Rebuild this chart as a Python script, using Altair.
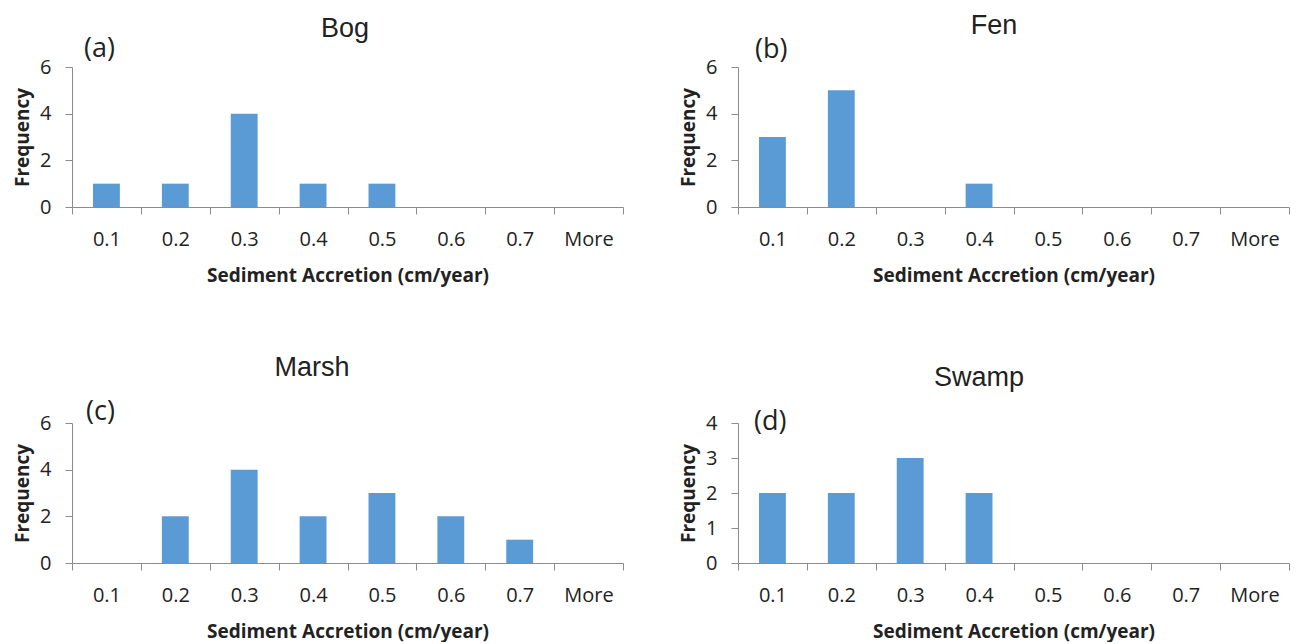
import altair as alt
import pandas as pd

# ---- data ----
categories = ["0.1", "0.2", "0.3", "0.4", "0.5", "0.6", "0.7", "More"]
bog = [1, 1, 4, 1, 1, 0, 0, 0]
fen = [3, 5, 0, 1, 0, 0, 0, 0]
marsh = [0, 2, 4, 2, 3, 2, 1, 0]
swamp = [2, 2, 3, 2, 0, 0, 0, 0]
panel_titles = ["Bog", "Fen", "Marsh", "Swamp"]
panel_tags = ["(a)", "(b)", "(c)", "(d)"]
y_max = [6, 6, 6, 4]
y_ticks = [[0, 2, 4, 6], [0, 2, 4, 6], [0, 2, 4, 6], [0, 1, 2, 3, 4]]

W, H = 551, 140
FONT = "Open Sans"
TITLE_FONT = "Liberation Sans"
BLUE = "#5B9BD5"
GRAY = "#8C8C8C"
INK = "#222222"

# annotation placement relative to each plot area
title_pos = [(273, -30), (256, -33.5), (240, -47), (241, -37)]
tag_pos = [(12, -10), (17, -9), (14, -3), (16, 7)]


def panel(i, vals):
    df = pd.DataFrame({"bin": categories, "freq": vals})
    bars = alt.Chart(df).mark_bar(color=BLUE, width=alt.RelativeBandSize(0.39)).encode(
        x=alt.X(
            "bin:N",
            sort=categories,
            scale=alt.Scale(paddingInner=0, paddingOuter=0),
            axis=alt.Axis(
                title="Sediment Accretion (cm/year)",
                labelAngle=0,
                tickBand="extent",
                tickSize=7,
                labelPadding=15,
                titlePadding=17,
            ),
        ),
        y=alt.Y(
            "freq:Q",
            scale=alt.Scale(domain=[0, y_max[i]], nice=False),
            axis=alt.Axis(
                title="Frequency",
                values=y_ticks[i],
                tickSize=7,
                labelPadding=14,
                titlePadding=7,
            ),
        ),
    )
    title = alt.Chart(pd.DataFrame({"label": [panel_titles[i]]})).mark_text(
        font=TITLE_FONT, fontSize=27, color=INK, align="center", baseline="alphabetic"
    ).encode(
        text="label:N",
        x=alt.value(title_pos[i][0]),
        y=alt.value(title_pos[i][1]),
    )
    tag = alt.Chart(pd.DataFrame({"label": [panel_tags[i]]})).mark_text(
        font=FONT, fontSize=27, color=INK, align="left", baseline="alphabetic"
    ).encode(
        text="label:N",
        x=alt.value(tag_pos[i][0]),
        y=alt.value(tag_pos[i][1]),
    )
    return alt.layer(bars, title, tag).properties(width=W, height=H)


panels = [panel(i, v) for i, v in enumerate([bog, fen, marsh, swamp])]

chart = (
    alt.concat(*panels, columns=2, spacing={"row": 67, "column": 55})
    .properties(padding={"left": 5, "top": 3, "right": 0, "bottom": 0})
    .configure_axis(
        labelFont=FONT,
        labelFontSize=20,
        labelColor=INK,
        titleFont=FONT,
        titleFontSize=19,
        titleFontWeight="bold",
        titleColor=INK,
        domainColor=GRAY,
        tickColor=GRAY,
        grid=False,
    )
    .configure_view(stroke="transparent")
)

chart.save("out.html", embed_options={"renderer": "svg", "actions": False})
